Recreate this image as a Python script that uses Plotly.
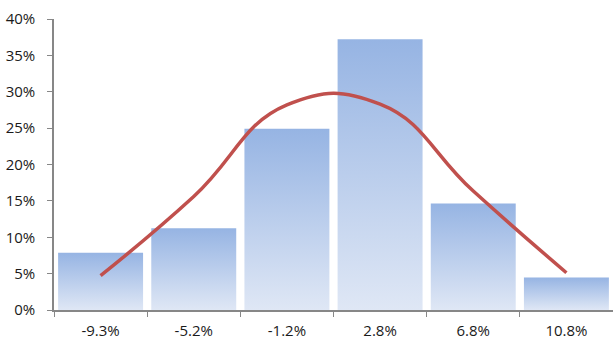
import plotly.graph_objects as go

# Return buckets, observed frequency and fitted normal curve
categories = ["-9.3%", "-5.2%", "-1.2%", "2.8%", "6.8%", "10.8%"]
frequency = [0.0786, 0.1124, 0.2490, 0.3720, 0.1464, 0.0447]
normal_fit = [0.0472, 0.1560, 0.2820, 0.2830, 0.1635, 0.0512]
y_ticks = [0, 0.05, 0.10, 0.15, 0.20, 0.25, 0.30, 0.35, 0.40]

BAR_HALF = 0.456
AXIS_GREY = "#878787"
FONT = dict(family="Open Sans", size=15, color="#1a1a1a")

fig = go.Figure()

# Histogram bars as filled rectangles with a vertical gradient (light at base, darker at top)
for i, (cat, v) in enumerate(zip(categories, frequency)):
    fig.add_trace(go.Scatter(
        x=[i - BAR_HALF, i + BAR_HALF, i + BAR_HALF, i - BAR_HALF, i - BAR_HALF],
        y=[0, 0, v, v, 0],
        mode="lines",
        line=dict(width=0),
        fill="toself",
        fillgradient=dict(
            type="vertical",
            colorscale=[[0, "rgb(223,231,245)"], [1, "rgb(150,180,227)"]],
        ),
        hoverinfo="skip",
        showlegend=False,
        name=cat,
    ))

# Smoothed normal curve through the bucket centres
fig.add_trace(go.Scatter(
    x=list(range(len(categories))),
    y=normal_fit,
    mode="lines",
    line=dict(color="#c0504d", width=3.5, shape="spline", smoothing=1.3),
    showlegend=False,
    name="Normal",
))

fig.update_layout(
    width=613,
    height=340,
    margin=dict(l=54, r=0, t=19, b=30, autoexpand=False),
    paper_bgcolor="white",
    plot_bgcolor="white",
    font=FONT,
    xaxis=dict(
        range=[-0.5, 5.5],
        tickvals=list(range(len(categories))),
        ticktext=categories,
        ticks="",
        showgrid=False,
        zeroline=False,
        showline=True,
        linecolor=AXIS_GREY,
        linewidth=1.5,
        ticklabelstandoff=6,
        automargin=False,
        minor=dict(
            tickvals=[k - 0.5 for k in range(len(categories) + 1)],
            ticks="outside",
            ticklen=5,
            tickcolor=AXIS_GREY,
            tickwidth=1.2,
            showgrid=False,
        ),
        fixedrange=True,
    ),
    yaxis=dict(
        range=[0, 0.40],
        tickvals=y_ticks,
        tickformat=".0%",
        ticks="outside",
        ticklen=5,
        tickcolor=AXIS_GREY,
        tickwidth=1.2,
        showgrid=False,
        zeroline=False,
        showline=True,
        linecolor=AXIS_GREY,
        linewidth=1.5,
        ticklabelstandoff=9,
        automargin=False,
        fixedrange=True,
    ),
)

fig.write_html("out.html")
